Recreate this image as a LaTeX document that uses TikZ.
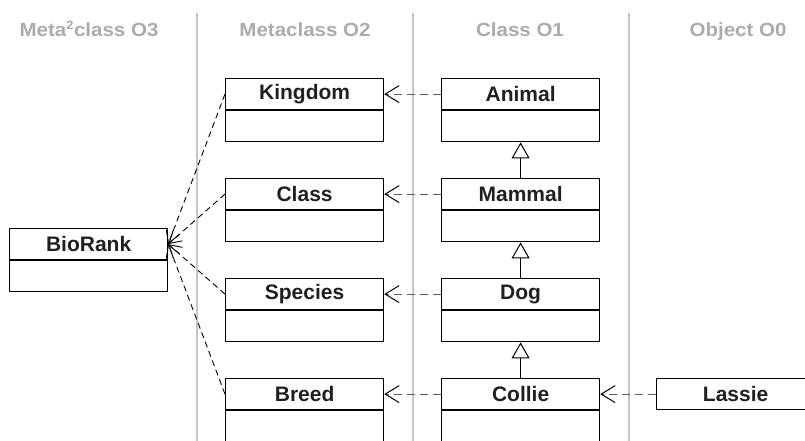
\documentclass[tikz,border=0pt]{standalone}
\usepackage{fontspec}
\setmainfont{Liberation Sans}
\usetikzlibrary{arrows.meta}
\definecolor{inkdark}{HTML}{231F20}
\definecolor{headgray}{HTML}{ABABAB}
\definecolor{rulegray}{HTML}{C6C6C6}
\definecolor{depgray}{HTML}{5E5E5E}
\tikzset{
  head/.style={draw, line width=1.2pt, minimum width=158pt, minimum height=31pt,
    inner sep=0pt, anchor=north west, text=inkdark,
    font=\bfseries\fontsize{21}{25}\selectfont},
  body/.style={draw, line width=1.2pt, minimum width=158pt, minimum height=31pt,
    inner sep=0pt, anchor=north},
  layer/.style={text=headgray, font=\bfseries\fontsize{19}{23}\selectfont,
    inner sep=0pt, anchor=base},
  lane/.style={draw=rulegray, line width=1.6pt},
  instof/.style={draw=depgray, line width=1.2pt, dash pattern=on 8pt off 5pt,
    -{Straight Barb[length=14pt, width=17pt, line width=1pt, color=black]}},
  rankof/.style={draw=black, line width=0.9pt, dash pattern=on 6pt off 4pt,
    -{Straight Barb[length=12pt, width=14pt, line width=0.9pt]}},
  isa/.style={draw=black, line width=1pt,
    -{Triangle[open, length=16pt, width=18pt, line width=1pt, fill=white]}}
}
\begin{document}
\begin{tikzpicture}[x=1pt, y=-1pt]
\useasboundingbox (0,0) rectangle (805,440);

% layer headings
\node[layer] (h3) at (89,36) {\scalebox{1.08}[1]{Meta\textsuperscript{\fontsize{12}{12}\selectfont 2}class O3}};
\node[layer] (h2) at (305,36) {\scalebox{1.08}[1]{Metaclass O2}};
\node[layer] (h1) at (520,36) {\scalebox{1.08}[1]{Class O1}};
\node[layer] (h0) at (738,36) {\scalebox{1.08}[1]{Object O0}};

% lane separators
\coordinate (s1t) at (197,13); \coordinate (s1b) at (197,441);
\coordinate (s2t) at (413,13); \coordinate (s2b) at (413,441);
\coordinate (s3t) at (629,13); \coordinate (s3b) at (629,441);
\draw[lane] (s1t) -- (s1b);
\draw[lane] (s2t) -- (s2b);
\draw[lane] (s3t) -- (s3b);

% meta^2 class
\node[head] (biorank) at (9,228) {BioRank};
\node[body] (biorank-b) at (biorank.south) {};

% metaclasses
\node[head] (kingdom) at (225,78) {Kingdom};
\node[body] (kingdom-b) at (kingdom.south) {};
\node[head] (class) at (225,178) {Class};
\node[body] (class-b) at (class.south) {};
\node[head] (species) at (225,278) {Species};
\node[body] (species-b) at (species.south) {};
\node[head] (breed) at (225,378) {Breed};
\node[body] (breed-b) at (breed.south) {};

% classes
\node[head] (animal) at (441,78) {Animal};
\node[body] (animal-b) at (animal.south) {};
\node[head] (mammal) at (441,178) {Mammal};
\node[body] (mammal-b) at (mammal.south) {};
\node[head] (dog) at (441,278) {Dog};
\node[body] (dog-b) at (dog.south) {};
\node[head] (collie) at (441,378) {Collie};
\node[body] (collie-b) at (collie.south) {};

% object
\node[head] (lassie) at (656,378) {Lassie};

% generalisation
\draw[isa] (mammal.north) -- (animal-b.south);
\draw[isa] (dog.north) -- (mammal-b.south);
\draw[isa] (collie.north) -- (dog-b.south);

% instance-of links
\draw[instof] (animal.west) -- (kingdom.east);
\draw[instof] (mammal.west) -- (class.east);
\draw[instof] (dog.west) -- (species.east);
\draw[instof] (collie.west) -- (breed.east);
\draw[instof] (lassie.west) -- (collie.east);

\draw[rankof] (kingdom.west) -- (biorank.east);
\draw[rankof] (class.west) -- (biorank.east);
\draw[rankof] (species.west) -- (biorank.east);
\draw[rankof] (breed.west) -- (biorank.east);
\end{tikzpicture}
\end{document}
